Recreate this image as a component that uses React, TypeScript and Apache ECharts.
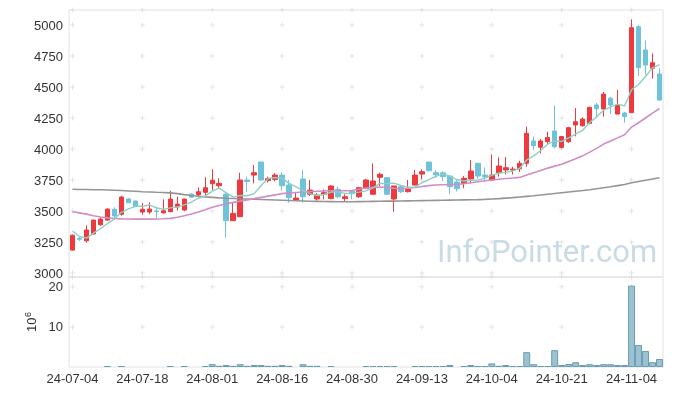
import React, { useEffect, useRef } from "react";
import * as echarts from "echarts";

const dates = [
  "24-07-04","24-07-05","24-07-08","24-07-09","24-07-10","24-07-11","24-07-12","24-07-15","24-07-16","24-07-17",
  "24-07-18","24-07-19","24-07-22","24-07-23","24-07-24","24-07-25","24-07-26","24-07-29","24-07-30","24-07-31",
  "24-08-01","24-08-02","24-08-05","24-08-06","24-08-07","24-08-08","24-08-09","24-08-12","24-08-13","24-08-14",
  "24-08-16","24-08-19","24-08-20","24-08-21","24-08-22","24-08-23","24-08-26","24-08-27","24-08-28","24-08-29",
  "24-08-30","24-09-02","24-09-03","24-09-04","24-09-05","24-09-06","24-09-09","24-09-10","24-09-11","24-09-12",
  "24-09-13","24-09-19","24-09-20","24-09-23","24-09-24","24-09-25","24-09-26","24-09-27","24-09-30","24-10-02",
  "24-10-04","24-10-07","24-10-08","24-10-10","24-10-11","24-10-14","24-10-15","24-10-16","24-10-17","24-10-18",
  "24-10-21","24-10-22","24-10-23","24-10-24","24-10-25","24-10-28","24-10-29","24-10-30","24-10-31","24-11-01",
  "24-11-04","24-11-05","24-11-06","24-11-07","24-11-08",
];

const openPrices = [
  3185,3280,3260,3315,3390,3427,3514,3473,3597,3581,
  3492,3492,3500,3485,3495,3533,3508,3637,3630,3651,
  3720,3704,3635,3422,3454,3750,3790,3895,3745,3755,
  3790,3710,3589,3758,3635,3597,3635,3600,3675,3600,
  3659,3615,3683,3635,3772,3769,3597,3696,3656,3710,
  3798,3895,3809,3808,3782,3734,3723,3758,3885,3790,
  3750,3809,3831,3830,3840,3885,4065,4015,4059,4145,
  4013,4059,4194,4188,4207,4355,4323,4410,4282,4290,
  4293,4986,4798,4651,4605,
];
const highPrices = [
  3310,3290,3385,3430,3449,3520,3530,3622,3605,3583,
  3565,3570,3535,3594,3664,3615,3600,3640,3690,3772,
  3837,3764,3653,3567,3809,3777,3871,3897,3777,3806,
  3812,3750,3645,3831,3750,3645,3675,3708,3696,3635,
  3669,3695,3760,3885,3809,3775,3702,3710,3750,3831,
  3836,3897,3831,3822,3788,3755,3782,3911,3888,3852,
  3957,3933,3935,3858,3905,4180,4100,4080,4140,4352,
  4105,4180,4330,4255,4342,4370,4460,4420,4476,4300,
  5046,5000,4875,4772,4651,
];
const lowPrices = [
  3180,3260,3245,3312,3379,3420,3427,3462,3565,3533,
  3470,3475,3440,3481,3490,3505,3500,3605,3615,3620,
  3667,3680,3285,3420,3450,3656,3723,3748,3730,3740,
  3664,3567,3587,3567,3621,3585,3594,3595,3605,3575,
  3594,3605,3675,3635,3702,3632,3494,3643,3650,3705,
  3755,3820,3766,3742,3635,3658,3683,3723,3760,3737,
  3748,3777,3795,3795,3815,3858,3992,3965,4040,4006,
  4005,4050,4102,4180,4200,4261,4262,4282,4278,4212,
  4290,4589,4600,4568,4390,
];
const closePrices = [
  3305,3272,3347,3427,3435,3516,3460,3613,3567,3535,
  3514,3516,3496,3502,3596,3556,3596,3612,3656,3688,
  3748,3723,3422,3481,3750,3738,3809,3750,3761,3790,
  3704,3608,3605,3615,3669,3629,3648,3702,3615,3615,
  3640,3688,3750,3742,3796,3635,3702,3656,3675,3790,
  3817,3825,3792,3778,3696,3680,3764,3822,3782,3775,
  3790,3863,3849,3838,3885,4127,4027,4065,4092,4019,
  4100,4172,4220,4242,4336,4325,4443,4355,4350,4262,
  4978,4656,4677,4696,4395,
];
// volume in millions (axis unit 10^6)
const volumeMillions = [
  0,0,0,0,0,0.25,0,0.25,0,0,
  0,0,0,0,0.25,0,0.25,0,0,0.25,
  0.7,0.3,0.5,0.3,0.7,0.3,0.5,0.5,0.3,0.3,
  0.5,0.3,0,0.7,0.3,0.3,0,0.25,0,0,
  0,0,0.25,0.25,0.25,0.25,0.25,0,0,0.25,
  0.25,0.25,0.25,0.25,0.5,0,0.25,0.5,0.25,0.25,
  0.9,0.3,0.5,0.25,0.25,3.7,0.7,0.25,0.25,4.2,
  0.5,0.75,1.2,0.5,0.7,0.5,0.7,0.7,0.5,0.5,
  20.3,5.5,4.0,1.2,2.0,
];
const ma5 = [
  3339,3295,3282,3322,3357,3399,3437,3490,3518,3538,
  3538,3549,3526,3513,3525,3533,3549,3572,3603,3622,
  3660,3685,3647,3612,3625,3623,3640,3706,3762,3770,
  3763,3723,3694,3664,3640,3625,3633,3653,3653,3642,
  3644,3652,3662,3687,3723,3722,3725,3706,3693,3692,
  3728,3753,3780,3800,3782,3754,3742,3748,3749,3765,
  3787,3806,3812,3823,3845,3912,3945,3988,4039,4066,
  4061,4090,4121,4151,4214,4259,4313,4340,4362,4347,
  4478,4520,4585,4654,4680,
];
const ma20 = [
  3494,3485,3475,3462,3452,3445,3440,3437,3436,3435,
  3435,3435,3436,3438,3441,3450,3462,3476,3492,3510,
  3530,3545,3558,3570,3580,3590,3600,3610,3620,3630,
  3640,3646,3650,3654,3658,3660,3662,3663,3664,3664,
  3665,3675,3685,3690,3694,3690,3684,3680,3684,3690,
  3698,3705,3710,3712,3713,3714,3720,3728,3736,3744,
  3750,3756,3762,3766,3771,3790,3808,3826,3846,3862,
  3878,3900,3922,3945,3975,4005,4040,4065,4090,4115,
  4177,4212,4250,4290,4327,
];
const ma60 = [
  3675,3674,3673,3672,3671,3669,3667,3665,3662,3659,
  3656,3654,3651,3649,3646,3640,3632,3625,3619,3614,
  3610,3606,3603,3601,3599,3597,3595,3593,3591,3589,
  3587,3585,3583,3581,3579,3578,3577,3576,3575,3575,
  3575,3576,3577,3578,3579,3580,3580,3581,3582,3583,
  3584,3585,3586,3587,3588,3589,3590,3591,3592,3594,
  3597,3600,3604,3608,3613,3618,3623,3629,3635,3641,
  3647,3653,3659,3665,3672,3680,3688,3696,3705,3714,
  3728,3738,3748,3758,3768,
];

const priceTicks = [3000, 3250, 3500, 3750, 4000, 4250, 4500, 4750, 5000];
const volumeTicks = [10, 20];
const PRICE_MIN = 2968;
const PRICE_MAX = 5121;
const VOLUME_MAX = 22.45;
const LABEL_EVERY = 10;

const UP = "#ec3a3f";
const DOWN = "#6ec2d9";
const FONT = "Liberation Sans";
const CROSS = "path://M2 0h1v5h-1zM0 2h5v1h-5z";

export default function App() {
  const ref = useRef<HTMLDivElement>(null);

  useEffect(() => {
    const chart = echarts.init(ref.current as HTMLDivElement, null, { renderer: "svg" });

    const candles = dates.map((_, i) => [openPrices[i], closePrices[i], lowPrices[i], highPrices[i]]);
    const volumeData = volumeMillions.map((v) =>
      v > 0 ? v : { value: v, itemStyle: { borderWidth: 0, opacity: 0 } }
    );
    const crossCols = dates.filter((_, i) => i % LABEL_EVERY === 0);
    const priceRows = [PRICE_MIN, ...priceTicks, PRICE_MAX];
    const priceCross: [string, number][] = [];
    crossCols.forEach((c) => priceRows.forEach((v) => priceCross.push([c, v])));
    const volCross: [string, number][] = [];
    crossCols.forEach((c) => volumeTicks.forEach((v) => volCross.push([c, v])));
    const pStep = priceTicks[1] - priceTicks[0];
    const vStep = volumeTicks[1] - volumeTicks[0];

    const axisLabel = { color: "#333", fontSize: 13, fontFamily: FONT };

    chart.setOption({
      animation: false,
      grid: [
        { left: 69, right: 10, top: 10, height: 267, show: true, borderColor: "#e2e2e2", borderWidth: 1 },
        { left: 69, right: 10, top: 277, height: 90, show: true, borderColor: "#e2e2e2", borderWidth: 1 },
      ],
      xAxis: [
        {
          type: "category", gridIndex: 0, data: dates, boundaryGap: true,
          axisLine: { show: false }, axisTick: { show: false }, axisLabel: { show: false }, splitLine: { show: false },
        },
        {
          type: "category", gridIndex: 1, data: dates, boundaryGap: true,
          axisLine: { show: false }, axisTick: { show: false }, splitLine: { show: false },
          axisLabel: { ...axisLabel, interval: LABEL_EVERY - 1, margin: 5 },
        },
      ],
      yAxis: [
        {
          type: "value", gridIndex: 0, min: PRICE_MIN, max: PRICE_MAX, minInterval: pStep, maxInterval: pStep,
          axisLine: { show: false }, axisTick: { show: false }, splitLine: { show: false },
          axisLabel: { ...axisLabel, margin: 6, formatter: (v: number) => (priceTicks.includes(v) ? String(v) : "") },
        },
        {
          type: "value", gridIndex: 1, min: 0, max: VOLUME_MAX, minInterval: vStep, maxInterval: vStep,
          axisLine: { show: false }, axisTick: { show: false }, splitLine: { show: false },
          axisLabel: { ...axisLabel, margin: 6, formatter: (v: number) => (volumeTicks.includes(v) ? String(v) : "") },
        },
      ],
      series: [
        {
          type: "scatter", xAxisIndex: 0, yAxisIndex: 0, data: priceCross, symbol: CROSS, symbolSize: 5,
          itemStyle: { color: "#dcdcdc" }, silent: true, z: 1, clip: false,
        },
        {
          type: "scatter", xAxisIndex: 1, yAxisIndex: 1, data: volCross, symbol: CROSS, symbolSize: 5,
          itemStyle: { color: "#dcdcdc" }, silent: true, z: 1, clip: false,
        },
        {
          type: "candlestick", xAxisIndex: 0, yAxisIndex: 0, data: candles, barWidth: 5,
          itemStyle: { color: UP, color0: DOWN, borderColor: UP, borderColor0: DOWN, borderWidth: 1 },
          z: 3,
        },
        {
          type: "line", xAxisIndex: 0, yAxisIndex: 0, data: ma60, symbol: "none",
          lineStyle: { color: "#959595", width: 1.6 }, z: 4,
        },
        {
          type: "line", xAxisIndex: 0, yAxisIndex: 0, data: ma20, symbol: "none",
          lineStyle: { color: "#d18dc6", width: 1.6 }, z: 4,
        },
        {
          type: "line", xAxisIndex: 0, yAxisIndex: 0, data: ma5, symbol: "none",
          lineStyle: { color: "#8fcfc2", width: 1.4 }, z: 4,
        },
        {
          type: "bar", xAxisIndex: 1, yAxisIndex: 1, data: volumeData, barCategoryGap: "0%",
          itemStyle: { color: "#9cc2d2", borderColor: "#6a9db3", borderWidth: 1 }, z: 3,
        },
      ],
      graphic: [
        {
          type: "text", left: 437, top: 236, z: 0, silent: true,
          style: { text: "InfoPointer.com", fill: "#c9dbe5", fontSize: 31, fontFamily: "Roboto" },
        },
        {
          type: "group", x: 38, y: 332, rotation: Math.PI / 2,
          children: [
            { type: "text", x: 0, y: 0, style: { text: "10", fill: "#333", fontSize: 13, fontFamily: FONT, verticalAlign: "bottom", textVerticalAlign: "bottom" } },
            { type: "text", x: 15, y: -6, style: { text: "6", fill: "#333", fontSize: 9, fontFamily: FONT, verticalAlign: "bottom", textVerticalAlign: "bottom" } },
          ],
        },
      ],
    });

    return () => chart.dispose();
  }, []);

  return <div ref={ref} style={{ position: "fixed", left: 0, top: 0, width: 673, height: 396 }} />;
}
